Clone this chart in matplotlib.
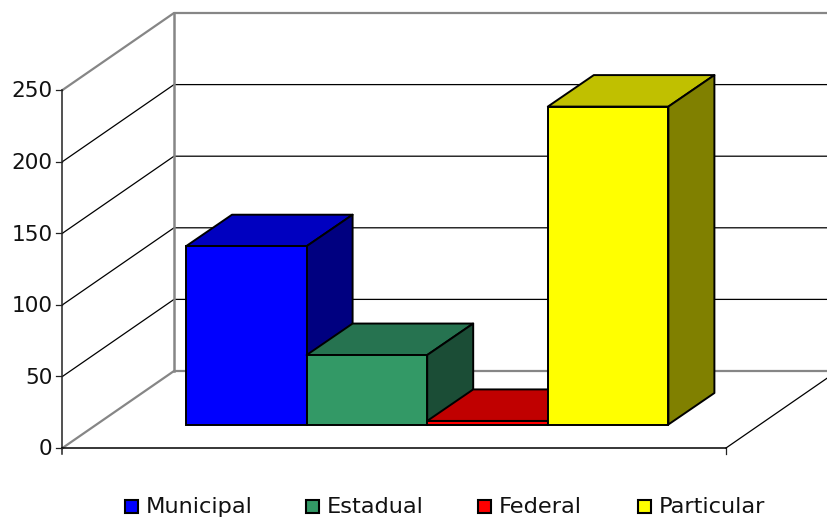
import matplotlib
matplotlib.use('Agg')
import matplotlib.pyplot as plt
from matplotlib.patches import Polygon, Rectangle

# Dados
series = ['Municipal', 'Estadual', 'Federal', 'Particular']
valores = [124.5, 48.5, 2.5, 222]
cores = ['#0000ff', '#339966', '#ff0000', '#ffff00']
cores_topo = ['#0000c0', '#267350', '#c00000', '#c0c000']
cores_lado = ['#000080', '#1b4d36', '#800000', '#808000']
ticks = [0, 50, 100, 150, 200, 250]

# escala: x em pixels, y em valores do eixo
px_por_valor = 358 / 250
y0 = 448

fig = plt.figure(figsize=(8.28, 5.18), dpi=100)
ax = fig.add_axes([0, 0, 1, 1])
ax.set_xlim(0, 828)
ax.set_ylim((y0 - 518) / px_por_valor, y0 / px_por_valor)
ax.axis('off')

x_ini, x_fim = 62.5, 726
# profundidade do grafico e das barras, em pixels
dx, dy = 111.5, 77 / px_por_valor
bx, by = 46, 31.5 / px_por_valor
x_barra = 186
larg = 120.6
base = 23.5 / px_por_valor

cinza = '#868686'
# paredes
topo = ticks[-1] + dy
ax.plot([x_ini, x_ini + dx, 828], [250, topo, topo], color=cinza, lw=1.6, zorder=2)
ax.plot([x_ini + dx, x_ini + dx], [dy, topo], color=cinza, lw=1.8, zorder=2)
ax.plot([x_ini, x_ini + dx, 828], [0, dy, dy], color=cinza, lw=1.6, zorder=2)

# grade
for t in ticks[1:-1]:
    ax.plot([x_ini, x_ini + dx, 828], [t, t + dy, t + dy], color='black', lw=0.9, zorder=1)

# eixos
ax.plot([x_ini, x_ini], [-6 / px_por_valor, 250], color='#222222', lw=1.1, zorder=3)
ax.plot([x_ini, x_fim], [0, 0], color='black', lw=1.1, zorder=3)
ax.plot([x_fim, x_fim], [-6 / px_por_valor, 0], color='#222222', lw=0.9, zorder=3)
k = (828 - x_fim) / dx
ax.plot([x_fim, 828], [0, k * dy], color='black', lw=0.9, zorder=3)
for t in ticks:
    ax.plot([x_ini - 6, x_ini], [t, t], color='#222222', lw=0.9, zorder=3)
    ax.text(x_ini - 10, t - 1, str(t), ha='right', va='center', fontsize=15.6, color='#111111')

# barras
for i, v in enumerate(valores):
    x = x_barra + i * larg
    z = 4 + i * 0.1
    ax.add_patch(Polygon([(x, base + v), (x + larg, base + v), (x + larg + bx, base + v + by), (x + bx, base + v + by)],
                         fc=cores_topo[i], ec='black', lw=1.4, zorder=z, joinstyle='round'))
    ax.add_patch(Polygon([(x + larg, base), (x + larg + bx, base + by), (x + larg + bx, base + v + by), (x + larg, base + v)],
                         fc=cores_lado[i], ec='black', lw=1.4, zorder=z, joinstyle='round'))
    ax.bar(x, v, width=larg, bottom=base, align='edge', color=cores[i], edgecolor='black', lw=1.4, zorder=z + 0.05)

# legenda
leg_x = [125, 306, 478, 638]
for nome, cor, x in zip(series, cores, leg_x):
    ax.add_patch(Rectangle((x, (y0 - 513) / px_por_valor), 13, 13 / px_por_valor, fc=cor, ec='black', lw=1.5, zorder=5))
    ax.text(x + 21, (y0 - 507) / px_por_valor, nome, ha='left', va='center', fontsize=16.2, color='#111111')

fig.savefig('out.png', dpi=100)
